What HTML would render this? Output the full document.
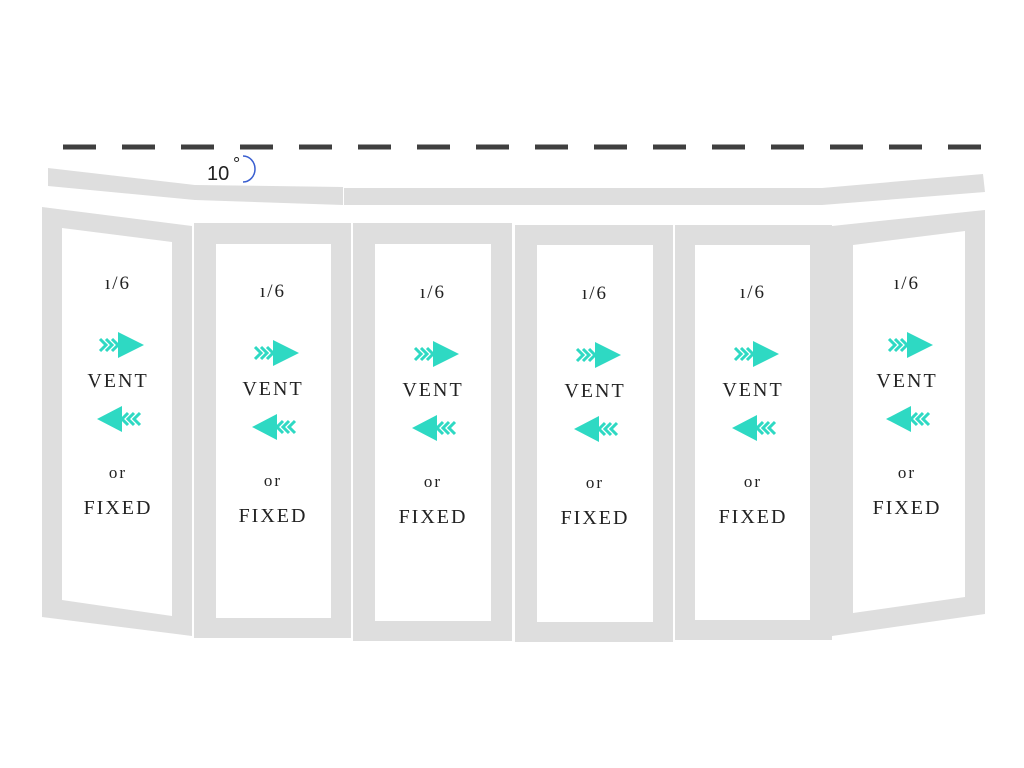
<!DOCTYPE html>
<html><head><meta charset="utf-8"><style>
html,body{margin:0;padding:0;background:#fff;width:1024px;height:768px;overflow:hidden}
svg{display:block}
text{font-family:"Liberation Serif",serif;fill:#222}
</style></head><body>
<svg width="1024" height="768" viewBox="0 0 1024 768" xmlns="http://www.w3.org/2000/svg">
<defs>
<g id="ra">
<polygon fill="#2ed9c3" points="0,-13 26,0 0,13"/>
<g fill="none" stroke="#2ed9c3" stroke-width="3">
<polyline points="-18,-6 -12,0 -18,6"/>
<polyline points="-12,-6 -6,0 -12,6"/>
<polyline points="-6,-6 0,0 -6,6"/>
</g>
</g>
<g id="la">
<polygon fill="#2ed9c3" points="4,-13 -21,0 4,13"/>
<g fill="none" stroke="#2ed9c3" stroke-width="3">
<polyline points="22,-6 16,0 22,6"/>
<polyline points="16,-6 10,0 16,6"/>
<polyline points="10,-6 4,0 10,6"/>
</g>
</g>
<g id="c">
<text x="0" y="0" text-anchor="middle" font-size="19" letter-spacing="2">ı/6</text>
<use href="#ra" x="0" y="56"/>
<use href="#la" x="0" y="130"/>
<text x="0" y="98" text-anchor="middle" font-size="20" letter-spacing="2">VENT</text>
<text x="0" y="189" text-anchor="middle" font-size="17" letter-spacing="2">or</text>
<text x="0" y="225" text-anchor="middle" font-size="20" letter-spacing="2">FIXED</text>
</g>
</defs>
<line x1="63" y1="147" x2="985" y2="147" stroke="#3f3f3f" stroke-width="5" stroke-dasharray="33,26"/>
<g fill="#dedede">
<polygon points="48,168 195,185 343,187 343,205 195,200 48,186"/>
<rect x="344" y="188" width="162" height="17"/>
<polygon points="506,188 822,188 983,174 985,192 822,205 506,205"/>
<path fill-rule="evenodd" d="M42,207 L192,226 L192,636 L42,617Z M62,228 L172,242 L172,616 L62,600Z"/>
<path fill-rule="evenodd" d="M194,223 H351 V638 H194Z M216,244 V618 H331 V244Z"/>
<path fill-rule="evenodd" d="M353,223 H512 V641 H353Z M375,244 V621 H491 V244Z"/>
<path fill-rule="evenodd" d="M515,225 H673 V642 H515Z M537,245 V622 H653 V245Z"/>
<path fill-rule="evenodd" d="M675,225 H832 V640 H675Z M695,245 V620 H810 V245Z"/>
<path fill-rule="evenodd" d="M832,226 L985,210 L985,614 L832,636Z M853,245 L965,231 L965,597 L853,613Z"/>
</g>
<text x="207" y="180" font-size="20" style="font-family:'Liberation Sans',sans-serif">10</text>
<text x="233" y="170" font-size="18" style="font-family:'Liberation Sans',sans-serif">°</text>
<path d="M243,156 A12,13 0 0 1 243,182" fill="none" stroke="#3a5fd0" stroke-width="1.5"/>
<use href="#c" x="118" y="289"/>
<use href="#c" x="273" y="297"/>
<use href="#c" x="433" y="298"/>
<use href="#c" x="595" y="299"/>
<use href="#c" x="753" y="298"/>
<use href="#c" x="907" y="289"/>
</svg>
</body></html>
